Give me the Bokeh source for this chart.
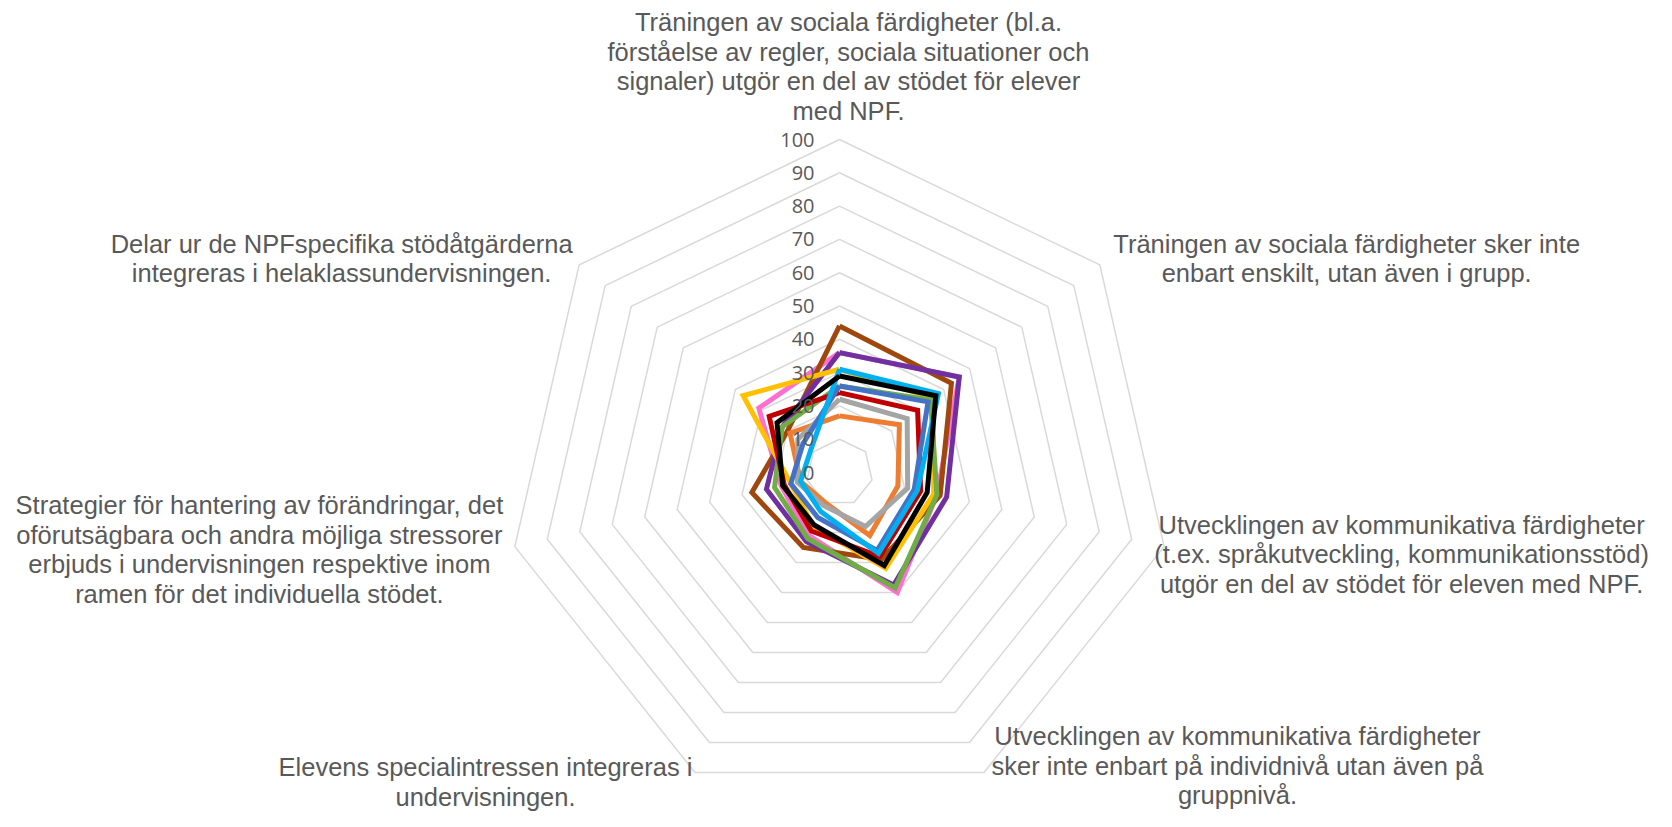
import math
from bokeh.plotting import figure
from bokeh.models import Range1d, ColumnDataSource
from bokeh.core.properties import value
from bokeh.embed import file_html
from bokeh.resources import INLINE

# ---------------- data ----------------
axis_labels = [
    "Träningen av sociala färdigheter (bl.a.\nförståelse av regler, sociala situationer och\nsignaler) utgör en del av stödet för elever\nmed NPF.",
    "Träningen av sociala färdigheter sker inte\nenbart enskilt, utan även i grupp.",
    "Utvecklingen av kommunikativa färdigheter\n(t.ex. språkutveckling, kommunikationsstöd)\nutgör en del av stödet för eleven med NPF.",
    "Utvecklingen av kommunikativa färdigheter\nsker inte enbart på individnivå utan även på\ngruppnivå.",
    "Elevens specialintressen integreras i\nundervisningen.",
    "Strategier för hantering av förändringar, det\noförutsägbara och andra möjliga stressorer\nerbjuds i undervisningen respektive inom\nramen för det individuella stödet.",
    "Delar ur de NPFspecifika stödåtgärderna\nintegreras i helaklassundervisningen.",
]
tick_values = [0, 10, 20, 30, 40, 50, 60, 70, 80, 90, 100]

pink   = [36, 46, 30, 40, 21, 18, 31]
brown  = [44, 43, 31, 29, 25, 27, 20]
purple = [36, 46, 33, 37.5, 23, 22.5, 22]
yellow = [31, 36, 29, 32, 18, 15, 37]
green  = [26, 35, 30, 38.5, 22, 20, 22]
red    = [24, 30, 25, 28, 19.5, 17, 27]
orange = [17, 23, 18, 21, 10, 12, 19]
gray   = [22, 26, 21, 18, 11, 13, 16]
blue   = [26, 34, 23, 26, 15, 15, 14]
lightblue = [31, 38, 24, 27, 13, 12, 11]
black  = [29, 37, 27, 31, 17.5, 17.5, 24]

series = [
    (pink, "#FF6FCF"),
    (brown, "#9E480E"),
    (purple, "#7030A0"),
    (yellow, "#FFC000"),
    (green, "#70AD47"),
    (red, "#C00000"),
    (orange, "#ED7D31"),
    (gray, "#A5A5A5"),
    (blue, "#4472C4"),
    (lightblue, "#00B0F0"),
    (black, "#000000"),
]

# ---------------- layout ----------------
W, H = 1656, 811
S = 3.33            # px per unit
CX, CY = 839, 472   # centre in figure px
n = len(axis_labels)
angles = [math.pi / 2 - 2 * math.pi * k / n for k in range(n)]

# label block centres (data units relative to centre)
label_pos = [(2.7, 121.9), (152.3, 64.3), (168.8, -24.6), (119.5, -88.0),
             (-106.3, -93.0), (-174.2, -23.1), (-149.5, 64.3)]

p = figure(width=W, height=H, output_backend="svg", toolbar_location=None,
           x_range=Range1d(-CX / S, (W - CX) / S),
           y_range=Range1d(-(H - CY) / S, CY / S),
           min_border=0)
p.axis.visible = False
p.grid.visible = False
p.outline_line_color = None
p.background_fill_color = "white"

# grid rings
for r in tick_values[1:]:
    xs = [r * math.cos(a) for a in angles] + [r * math.cos(angles[0])]
    ys = [r * math.sin(a) for a in angles] + [r * math.sin(angles[0])]
    p.line(xs, ys, line_color="#D9D9D9", line_width=1.5)

# series
for vals, col in series:
    xs = [v * math.cos(a) for v, a in zip(vals, angles)]
    ys = [v * math.sin(a) for v, a in zip(vals, angles)]
    xs.append(xs[0]); ys.append(ys[0])
    p.line(xs, ys, line_color=col, line_width=5, line_join="miter")

# tick labels
p.text(x=[-7.5] * len(tick_values), y=tick_values, text=[str(t) for t in tick_values],
       text_align="right", text_baseline="middle", text_color="#595959",
       text_font=value("Open Sans"), text_font_size="20px")

# axis labels
src = ColumnDataSource(dict(x=[q[0] for q in label_pos], y=[q[1] for q in label_pos],
                            t=axis_labels))
p.text(x="x", y="y", text="t", source=src, text_align="center", text_baseline="middle",
       text_color="#595959", text_font=value("Liberation Sans"), text_font_size="25.5px",
       text_line_height=1.05)

open("out.html", "w").write(file_html(p, INLINE))
